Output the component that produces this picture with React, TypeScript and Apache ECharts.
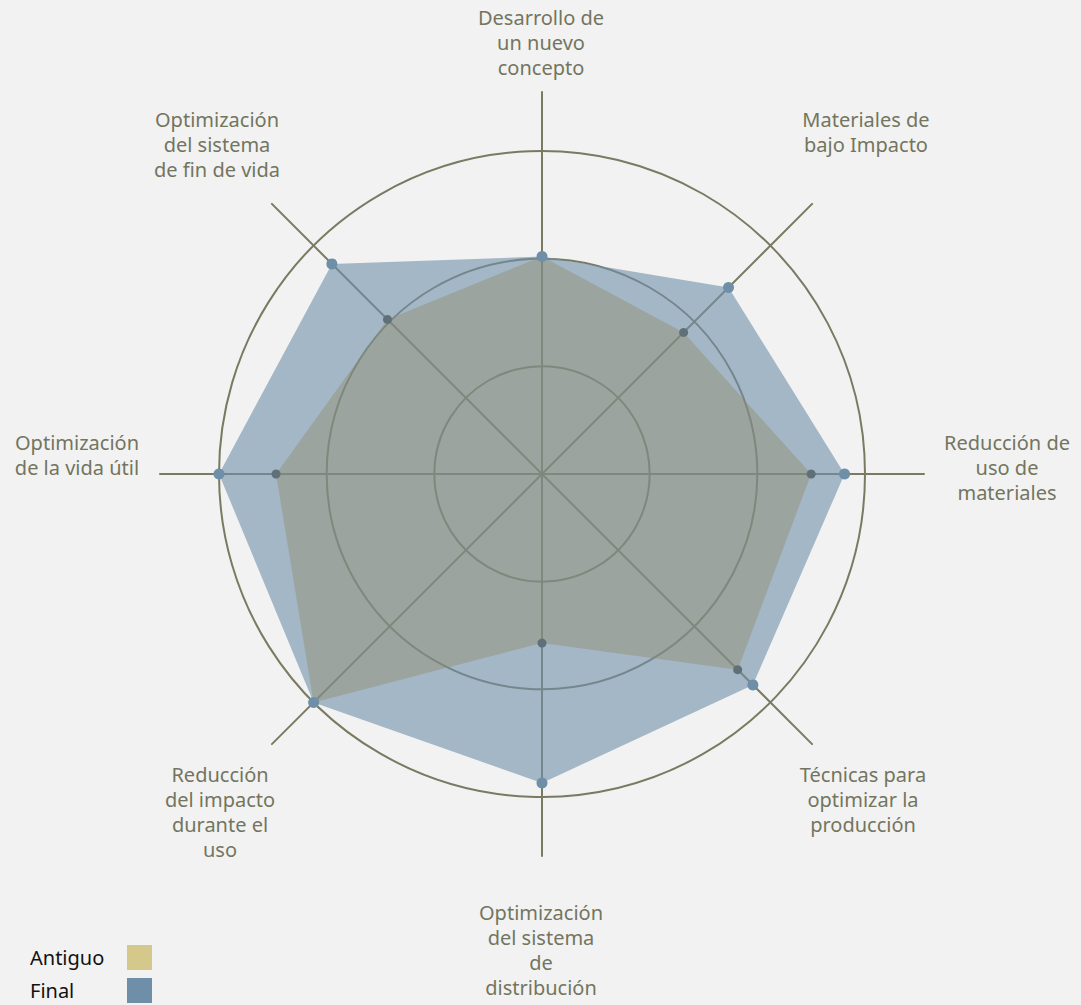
import React, { useEffect, useRef } from "react";
import * as echarts from "echarts";

// Axes, listed clockwise starting at the top
const indicatorNames = [
  "Desarrollo de\nun nuevo\nconcepto",
  "Materiales de\nbajo Impacto",
  "Reducción de\nuso de\nmateriales",
  "Técnicas para\noptimizar la\nproducción",
  "Optimización\ndel sistema\nde\ndistribución",
  "Reducción\ndel impacto\ndurante el\nuso",
  "Optimización\nde la vida útil",
  "Optimización\ndel sistema\nde fin de vida",
];
const finalValues = [2.02, 2.45, 2.81, 2.77, 2.87, 3.0, 3.0, 2.76];
const antiguoValues = [2.02, 1.86, 2.5, 2.57, 1.57, 3.0, 2.47, 2.03];
const seriesNames = ["Antiguo", "Final"];
const scaleMax = 3;

// label block anchor points (centre x, top y) — layout only
const labelAnchors: [number, number][] = [
  [541, 5],
  [866, 107],
  [1007, 430],
  [863, 762],
  [541, 900],
  [220, 762],
  [77, 430],
  [217, 107],
];

const FONT = "'Noto Sans', 'Open Sans', sans-serif";

export default function App() {
  const ref = useRef<HTMLDivElement>(null);
  useEffect(() => {
    document.body.style.margin = "0";
    document.body.style.background = "#f2f2f2";
    const chart = echarts.init(ref.current!, undefined, { renderer: "svg" });
    // ECharts lays radar indicators out counter-clockwise; reverse the tail for clockwise order
    const order = [0, 7, 6, 5, 4, 3, 2, 1];
    const indicator = order.map((i) => ({ name: indicatorNames[i].replace(/\n/g, " "), min: 0, max: scaleMax }));
    const reorder = (arr: number[]) => order.map((i) => arr[i]);
    const center = [542, 474];
    chart.setOption({
      animation: false,
      backgroundColor: "#f2f2f2",
      legend: {
        orient: "vertical",
        left: 30,
        top: 945,
        padding: 0,
        itemWidth: 25,
        itemHeight: 25,
        itemGap: 8,
        align: "right",
        icon: "rect",
        selectedMode: false,
        formatter: "{a|{name}}",
        textStyle: {
          fontSize: 20,
          color: "#111",
          fontFamily: FONT,
          rich: { a: { width: 92, align: "left", fontSize: 20, fontFamily: FONT, color: "#111" } },
        },
        data: [
          { name: seriesNames[0], itemStyle: { color: "#d4c88a" } },
          { name: seriesNames[1], itemStyle: { color: "#6f8fa8" } },
        ],
      },
      radar: [
        {
          center,
          radius: 323,
          startAngle: 90,
          shape: "circle",
          splitNumber: 3,
          indicator,
          axisName: { show: false },
          axisLine: { show: false },
          axisTick: { show: false },
          splitArea: { show: false },
          splitLine: { lineStyle: { color: "#7a7a62", width: 2 } },
        },
        {
          center,
          radius: 382,
          startAngle: 90,
          shape: "circle",
          splitNumber: 1,
          indicator,
          axisName: { show: false },
          axisLine: { lineStyle: { color: "#7a7a62", width: 2 } },
          axisTick: { show: false },
          splitArea: { show: false },
          splitLine: { show: false },
        },
      ],
      series: [
        {
          type: "radar",
          radarIndex: 0,
          name: seriesNames[1],
          z: 2,
          data: [
            {
              name: seriesNames[1],
              value: reorder(finalValues),
              symbol: "none",
              lineStyle: { width: 0 },
              areaStyle: { color: "#6f8fa8", opacity: 0.6 },
            },
          ],
        },
        {
          type: "radar",
          radarIndex: 0,
          name: seriesNames[0],
          z: 3,
          data: [
            {
              name: seriesNames[0],
              value: reorder(antiguoValues),
              symbol: "circle",
              symbolSize: 9,
              itemStyle: { color: "#5f7078" },
              lineStyle: { width: 0 },
              areaStyle: { color: "rgb(142,138,102)", opacity: 0.42 },
            },
          ],
        },
        {
          type: "radar",
          radarIndex: 0,
          name: seriesNames[1],
          z: 4,
          data: [
            {
              name: seriesNames[1],
              value: reorder(finalValues),
              symbol: "circle",
              symbolSize: 11,
              itemStyle: { color: "#6f8fa8" },
              lineStyle: { width: 0 },
            },
          ],
        },
      ],
      graphic: indicatorNames.map((t, i) => ({
        type: "text",
        x: labelAnchors[i][0],
        y: labelAnchors[i][1],
        style: {
          text: t,
          align: "center",
          verticalAlign: "top",
          fontSize: 20,
          fontFamily: FONT,
          lineHeight: 25,
          fill: "#73755f",
        },
      })),
    });
    return () => chart.dispose();
  }, []);
  return (
    <div
      ref={ref}
      style={{ position: "fixed", left: 0, top: 0, width: 1081, height: 1005, background: "#f2f2f2" }}
    />
  );
}
